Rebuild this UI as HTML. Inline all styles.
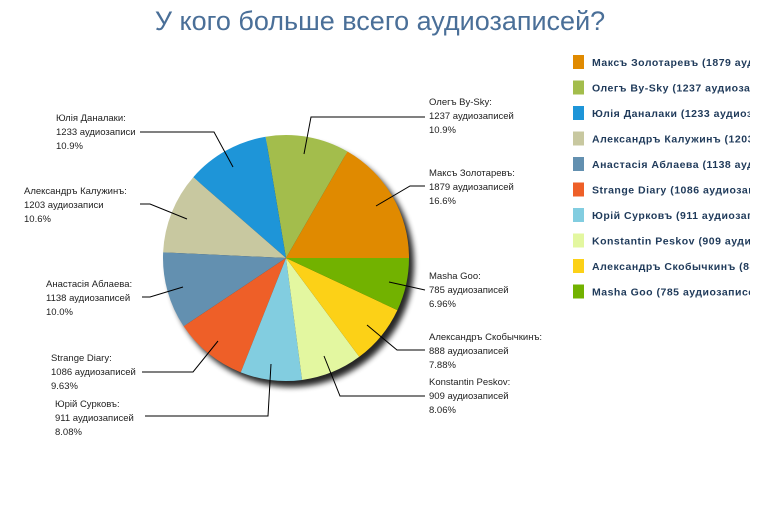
<!DOCTYPE html>
<html><head><meta charset="utf-8"><style>
body{margin:0;background:#fff;}
svg{display:block;font-family:"Liberation Sans","DejaVu Sans",sans-serif;}
</style></head><body>
<svg id="s" width="760" height="510" viewBox="0 0 760 510" xmlns="http://www.w3.org/2000/svg">
<defs>
<filter id="sh" x="-20%" y="-20%" width="150%" height="150%"><feGaussianBlur stdDeviation="3"/></filter>
<clipPath id="lc"><rect x="560" y="40" width="190" height="270"/></clipPath>
</defs>
<text x="380" y="30" text-anchor="middle" font-size="27" fill="#4a6f98">У кого больше всего аудиозаписей?</text>
<circle cx="291" cy="264" r="123" fill="#000" opacity="0.85" filter="url(#sh)"/>
<g id="pie"></g>
<g stroke="#000" stroke-width="1" fill="none">
<polyline points="304,154 311,117 425,117"/>
<polyline points="376,206 410,186 425,186"/>
<polyline points="233,167 214,132 140,132"/>
<polyline points="187,219 150,204 140,204"/>
<polyline points="183,287 150,297 142,297"/>
<polyline points="218,341 193,372 142,372"/>
<polyline points="271,364 268,416 145,416"/>
<polyline points="324,356 340,396 425,396"/>
<polyline points="367,325 397,350 425,350"/>
<polyline points="389,282 425,290"/>
</g>
<g font-size="9.5" fill="#222">
<text x="429" y="105">Олегъ By-Sky:</text><text x="429" y="119">1237 аудиозаписей</text><text x="429" y="133">10.9%</text>
<text x="429" y="176">Максъ Золотаревъ:</text><text x="429" y="190">1879 аудиозаписей</text><text x="429" y="204">16.6%</text>
<text x="56" y="121">Юлія Даналаки:</text><text x="56" y="135">1233 аудиозаписи</text><text x="56" y="149">10.9%</text>
<text x="24" y="194">Александръ Калужинъ:</text><text x="24" y="208">1203 аудиозаписи</text><text x="24" y="222">10.6%</text>
<text x="46" y="287">Анастасія Аблаева:</text><text x="46" y="301">1138 аудиозаписей</text><text x="46" y="315">10.0%</text>
<text x="51" y="361">Strange Diary:</text><text x="51" y="375">1086 аудиозаписей</text><text x="51" y="389">9.63%</text>
<text x="55" y="407">Юрій Сурковъ:</text><text x="55" y="421">911 аудиозаписей</text><text x="55" y="435">8.08%</text>
<text x="429" y="385">Konstantin Peskov:</text><text x="429" y="399">909 аудиозаписей</text><text x="429" y="413">8.06%</text>
<text x="429" y="340">Александръ Скобычкинъ:</text><text x="429" y="354">888 аудиозаписей</text><text x="429" y="368">7.88%</text>
<text x="429" y="279">Masha Goo:</text><text x="429" y="293">785 аудиозаписей</text><text x="429" y="307">6.96%</text>
</g>
<g id="leg" clip-path="url(#lc)" font-size="10.5" font-weight="bold" fill="#1f3a5a" letter-spacing="0.5"></g>
</svg>
<script>
var d=[["Максъ Золотаревъ",1879,"#e08a00"],["Олегъ By-Sky",1237,"#a3bd4c"],["Юлія Даналаки",1233,"#1e95d8"],["Александръ Калужинъ",1203,"#c8c8a0"],["Анастасія Аблаева",1138,"#6390b0"],["Strange Diary",1086,"#ee5f28"],["Юрій Сурковъ",911,"#82cde0"],["Konstantin Peskov",909,"#e3f7a0"],["Александръ Скобычкинъ",888,"#fcd117"],["Masha Goo",785,"#72b200"]];
var T=0;d.forEach(function(x){T+=x[1]});
var cx=286,cy=258,r=123,a=0,ns="http://www.w3.org/2000/svg",pie=document.getElementById("pie"),leg=document.getElementById("leg");
d.forEach(function(x,i){
 var b=a+x[1]/T*2*Math.PI;
 var x1=cx+r*Math.cos(a),y1=cy-r*Math.sin(a),x2=cx+r*Math.cos(b),y2=cy-r*Math.sin(b);
 var p=document.createElementNS(ns,"path");
 p.setAttribute("d","M"+cx+","+cy+" L"+x1+","+y1+" A"+r+","+r+" 0 "+((b-a)>Math.PI?1:0)+" 0 "+x2+","+y2+" Z");
 p.setAttribute("fill",x[2]);pie.appendChild(p);a=b;
 var y=55+i*25.5;
 var q=document.createElementNS(ns,"rect");q.setAttribute("x",573);q.setAttribute("y",y);q.setAttribute("width",11);q.setAttribute("height",14);q.setAttribute("fill",x[2]);leg.appendChild(q);
 var t=document.createElementNS(ns,"text");t.setAttribute("x",592);t.setAttribute("y",y+11);
 t.textContent=x[0]+" ("+x[1]+" аудиозаписей)";leg.appendChild(t);
});
</script>
</body></html>
